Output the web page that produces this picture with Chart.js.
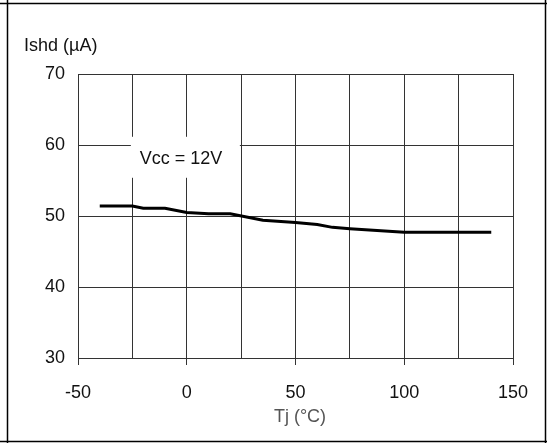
<!DOCTYPE html>
<html>
<head>
<meta charset="utf-8">
<script src="https://cdn.jsdelivr.net/npm/chart.js@4.4.0/dist/chart.umd.min.js"></script>
<style>
  html, body { margin: 0; padding: 0; background: #fff; }
  #wrap { width: 547px; height: 443px; }
</style>
</head>
<body>
<div id="wrap"><canvas id="ishd" width="547" height="443"></canvas></div>
<script>
// junction temperature (°C) and shutdown current (µA)
var tj = [-40, -25, -20, -10, 0, 10, 20, 35, 50, 60, 67, 75, 100, 140];
var ishd = [51.4, 51.4, 51.1, 51.1, 50.5, 50.3, 50.3, 49.4, 49.1, 48.8, 48.4, 48.2, 47.7, 47.7];
var xLabels = [-50, 0, 50, 100, 150];
var yLabels = [30, 40, 50, 60, 70];
var yTitle = "Ishd (\u00b5A)";
var xTitle = "Tj (\u00b0C)";
var note = "Vcc = 12V";

var points = tj.map(function (t, i) { return { x: t, y: ishd[i] }; });
var FONT = "'Liberation Sans', Arial, sans-serif";

// page frame, axis titles and the Vcc note
var extras = {
    id: "extras",
    afterDraw: function (chart) {
        var ctx = chart.ctx;
        var xs = chart.scales.x, ys = chart.scales.y;
        ctx.save();
        ctx.strokeStyle = "#000";
        ctx.lineWidth = 1.5;
        ctx.beginPath();
        ctx.moveTo(0, 3.5); ctx.lineTo(547, 3.5);
        ctx.moveTo(0, 441.5); ctx.lineTo(547, 441.5);
        ctx.moveTo(7.5, 0); ctx.lineTo(7.5, 443);
        ctx.moveTo(545.5, 0); ctx.lineTo(545.5, 443);
        ctx.stroke();

        ctx.font = "18px " + FONT;
        ctx.fillStyle = "#111";
        ctx.textBaseline = "middle";
        ctx.textAlign = "left";
        ctx.fillText(yTitle, 24, 46);

        ctx.fillStyle = "#555";
        ctx.textAlign = "center";
        ctx.fillText(xTitle, 300, 417);

        // note box sits over the grid
        var nx = xs.getPixelForValue(-25.7), ny = ys.getPixelForValue(58.2);
        ctx.fillStyle = "#fff";
        ctx.fillRect(nx, ny - 21, 109, 41);
        ctx.fillStyle = "#111";
        ctx.textAlign = "center";
        ctx.fillText(note, 181, ny + 1);
        ctx.restore();
    }
};

new Chart("ishd", {
    type: "line",
    data: {
        datasets: [{
            data: points,
            borderColor: "#000",
            borderWidth: 3,
            pointRadius: 0,
            tension: 0,
            fill: false
        }]
    },
    options: {
        responsive: false,
        animation: false,
        layout: { padding: { left: 0, right: 34, top: 74, bottom: 0 } },
        plugins: { legend: { display: false }, tooltip: { enabled: false } },
        scales: {
            x: {
                type: "linear",
                min: -50, max: 150,
                afterFit: function (s) { s.height = 85; },
                afterBuildTicks: function (s) {
                    var t = [];
                    for (var v = -50; v <= 150; v += 25) t.push({ value: v });
                    s.ticks = t;
                },
                grid: {
                    color: "#333",
                    lineWidth: 1,
                    tickLength: 7,
                    tickColor: function (c) {
                        return xLabels.indexOf(c.tick && c.tick.value) >= 0 ? "#333" : "rgba(0,0,0,0)";
                    }
                },
                border: { color: "#333", width: 1 },
                ticks: {
                    autoSkip: false,
                    maxRotation: 0,
                    padding: 17,
                    color: "#111",
                    font: { family: FONT, size: 18 },
                    callback: function (v) { return xLabels.indexOf(v) >= 0 ? String(v) : ""; }
                }
            },
            y: {
                min: 30, max: 70,
                afterFit: function (s) { s.width = 78; },
                afterBuildTicks: function (s) {
                    s.ticks = yLabels.map(function (v) { return { value: v }; });
                },
                grid: { color: "#333", lineWidth: 1, drawTicks: false },
                border: { color: "#333", width: 1 },
                ticks: {
                    padding: 13,
                    color: "#111",
                    font: { family: FONT, size: 18 }
                }
            }
        }
    },
    plugins: [extras]
});
</script>
</body>
</html>
